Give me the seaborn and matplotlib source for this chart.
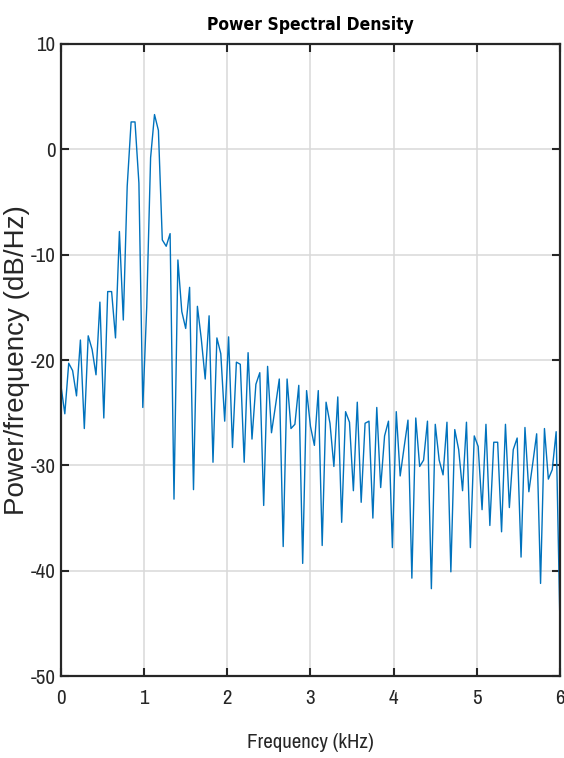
import numpy as np
import pandas as pd
import matplotlib
matplotlib.use("Agg")
import matplotlib.pyplot as plt
from matplotlib import font_manager
import seaborn as sns

# PSD estimate, 129 bins from 0 to 6 kHz (values in dB/Hz)
freq_khz = np.linspace(0, 6, 129)
psd_db = [
    -22.4, -25.1, -20.3, -21.0, -23.4, -18.1, -26.5, -17.7, -19.0, -21.4,
    -14.5, -25.5, -13.5, -13.5, -17.9, -7.8, -16.2, -3.5, 2.6, 2.6,
    -3.2, -24.5, -15.0, -0.8, 3.3, 1.8, -8.6, -9.2, -8.0, -33.2,
    -10.5, -15.4, -17.0, -13.1, -32.3, -14.9, -18.0, -21.8, -15.8, -29.7,
    -17.9, -19.4, -25.8, -17.8, -28.3, -20.2, -20.4, -29.7, -19.3, -27.5,
    -22.3, -21.2, -33.8, -20.6, -26.9, -24.4, -21.8, -37.7, -21.8, -26.5,
    -26.1, -22.4, -39.3, -22.9, -26.3, -28.1, -22.9, -37.6, -24.0, -26.0,
    -30.1, -23.5, -35.4, -24.9, -25.9, -32.4, -24.0, -33.5, -26.0, -25.8,
    -35.0, -24.5, -32.1, -27.2, -25.8, -37.8, -24.9, -31.0, -28.3, -25.7,
    -40.7, -25.5, -30.1, -29.5, -25.8, -41.7, -26.1, -29.5, -30.9, -25.9,
    -40.1, -26.6, -28.5, -32.4, -25.9, -37.8, -27.2, -28.2, -34.2, -26.1,
    -35.7, -27.8, -27.8, -36.3, -26.1, -34.0, -28.5, -27.4, -38.7, -26.4,
    -32.5, -29.8, -27.0, -41.2, -26.5, -31.3, -30.4, -26.8, -45.6,
]
x_ticks = [0, 1, 2, 3, 4, 5, 6]
y_ticks = [10, 0, -10, -20, -30, -40, -50]

df = pd.DataFrame({"freq": freq_khz, "psd": psd_db})

sns.set_theme(style="whitegrid")

# narrow sans for the horizontal text (reference looks condensed)
available = {f.name for f in font_manager.fontManager.ttflist}
narrow_family, narrow_stretch = ["DejaVu Sans"], "condensed"
for name in ["Liberation Sans Narrow", "Arial Narrow", "Archivo Narrow"]:
    if name in available:
        narrow_family, narrow_stretch = [name, "DejaVu Sans"], "normal"
        break

plt.rcParams['font.family'] = narrow_family
plt.rcParams['font.stretch'] = narrow_stretch

fig = plt.figure(figsize=(5.64, 7.58), dpi=100)
ax = fig.add_axes([0.108, 0.108, 0.885, 0.834])

sns.lineplot(data=df, x="freq", y="psd", ax=ax, color="#0072BD", linewidth=1.0)

ax.set_xlim(0, 6)
ax.set_ylim(-50, 10)
ax.set_xticks(x_ticks)
ax.set_yticks(y_ticks)
ax.set_xticklabels([str(t) for t in x_ticks])
ax.set_yticklabels([str(t) for t in y_ticks])

ax.grid(True, color="#d9d9d9", linewidth=1.1)
for s in ax.spines.values():
    s.set_visible(True)
    s.set_color("#262626")
    s.set_linewidth(1.6)

ax.tick_params(axis="both", which="major", direction="in", length=6, width=1.5,
               color="#262626", labelcolor="#262626", labelsize=15,
               top=True, right=True, bottom=True, left=True)
ax.tick_params(axis="x", pad=9)
ax.tick_params(axis="y", pad=4)

# bold condensed title
ax.set_title("Power Spectral Density", fontsize=12.5, fontweight="bold",
             family=["DejaVu Sans"], stretch="condensed", color="black", pad=10)
ax.set_xlabel("Frequency (kHz)", fontsize=15, color="#262626", labelpad=18)
ax.set_ylabel("Power/frequency (dB/Hz)", fontsize=20, color="#262626",
              family=["Liberation Sans", "DejaVu Sans"], stretch="normal",
              labelpad=0)

fig.savefig("out.png", dpi=100, facecolor="white")
